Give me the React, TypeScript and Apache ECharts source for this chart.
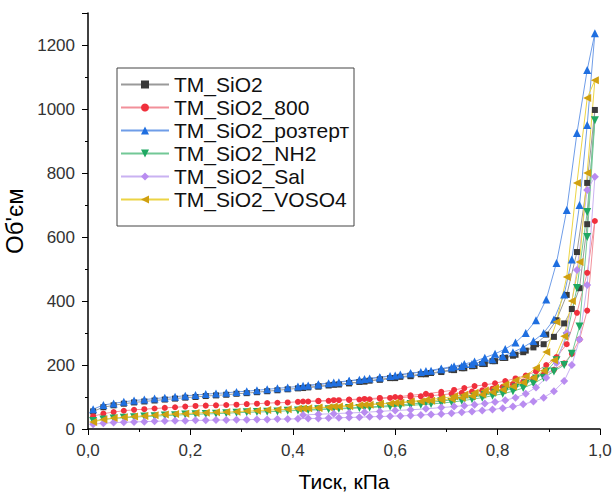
import React, { useEffect, useRef } from "react";
import * as echarts from "echarts";

// Pressure grids (adsorption branch, then desorption branch)
const P_ADS = [0.01, 0.03, 0.05, 0.07, 0.09, 0.11, 0.13, 0.15, 0.17, 0.19, 0.21, 0.23, 0.25, 0.27, 0.29, 0.31, 0.33, 0.35, 0.37, 0.39, 0.41, 0.43, 0.45, 0.47, 0.49, 0.51, 0.53, 0.55, 0.57, 0.59, 0.61, 0.63, 0.65, 0.67, 0.69, 0.71, 0.73, 0.75, 0.77, 0.79, 0.81, 0.83, 0.85, 0.87, 0.89, 0.91, 0.93, 0.945, 0.96, 0.975, 0.99];
const P_DES = [0.975, 0.955, 0.935, 0.915, 0.895, 0.875, 0.855, 0.835, 0.815, 0.795, 0.775, 0.755, 0.735, 0.715, 0.69, 0.66, 0.63, 0.6, 0.57, 0.54, 0.51, 0.48, 0.45, 0.42];

const SERIES_NAMES = ["TM_SiO2", "TM_SiO2_800", "TM_SiO2_розтерт", "TM_SiO2_NH2", "TM_SiO2_Sal", "TM_SiO2_VOSO4"];

const ADS_SIO2 = [55, 68, 74, 79, 83, 86, 89, 92, 95, 98, 100, 103, 105, 107, 110, 112, 115, 118, 121, 124, 127, 130, 133, 136, 139, 143, 147, 151, 155, 159, 163, 167, 171, 175, 180, 185, 190, 196, 203, 212, 222, 229, 240, 255, 265, 288, 330, 375, 440, 640, 997];
const DES_SIO2 = [769, 553, 419, 340, 295, 265, 245, 232, 222, 212, 203, 197, 190, 184, 178, 171, 165, 159, 154, 148, 143, 138, 133, 128];

const ADS_800 = [40, 48, 53, 57, 60, 62, 64, 66, 68, 70, 72, 73, 74, 75, 76, 78, 79, 81, 82, 83, 85, 86, 87, 88, 90, 91, 92, 93, 95, 97, 98, 100, 102, 104, 107, 110, 113, 117, 121, 126, 132, 140, 148, 158, 170, 185, 205, 235, 280, 370, 650];
const DES_800 = [488, 363, 265, 225, 200, 180, 167, 158, 150, 143, 138, 134, 128, 122, 116, 110, 105, 100, 97, 94, 92, 90, 88, 86];

const ADS_ROZT = [62, 75, 80, 85, 89, 92, 95, 98, 101, 104, 106, 109, 111, 113, 116, 118, 121, 124, 127, 130, 133, 136, 139, 143, 146, 150, 154, 158, 162, 166, 170, 174, 178, 182, 187, 192, 197, 203, 210, 218, 228, 240, 255, 275, 300, 342, 420, 530, 700, 950, 1237];
const DES_ROZT = [1122, 925, 684, 519, 405, 340, 300, 270, 250, 235, 223, 211, 203, 196, 189, 181, 174, 167, 161, 156, 151, 145, 140, 135];

const ADS_NH2 = [25, 30, 33, 35, 37, 39, 40, 42, 43, 45, 46, 47, 48, 49, 51, 52, 53, 54, 55, 57, 58, 59, 60, 62, 63, 64, 66, 67, 69, 70, 72, 74, 76, 78, 81, 84, 88, 93, 98, 104, 110, 118, 128, 142, 160, 180, 200, 235, 320, 600, 965];
const DES_NH2 = [678, 441, 290, 215, 180, 158, 142, 130, 120, 112, 106, 101, 96, 92, 87, 82, 78, 74, 71, 68, 66, 64, 62, 60];

const ADS_SAL = [15, 18, 20, 21, 22, 23, 24, 25, 26, 26, 27, 27, 28, 28, 29, 29, 30, 30, 31, 31, 32, 33, 33, 34, 35, 36, 37, 38, 39, 40, 41, 42, 44, 45, 47, 49, 52, 55, 58, 61, 65, 70, 77, 86, 98, 118, 150, 200, 280, 450, 788];
const DES_SAL = [747, 497, 300, 206, 160, 130, 110, 98, 90, 84, 80, 76, 73, 70, 67, 63, 60, 58, 55, 52, 50, 48, 46, 44];

const ADS_VOSO4 = [22, 30, 34, 37, 39, 41, 43, 45, 47, 48, 50, 51, 52, 53, 54, 56, 57, 59, 60, 62, 63, 65, 66, 68, 70, 72, 74, 76, 78, 80, 82, 84, 86, 88, 91, 94, 98, 103, 108, 115, 123, 133, 145, 160, 182, 215, 290, 400, 522, 800, 1090];
const DES_VOSO4 = [1034, 769, 475, 334, 241, 191, 165, 152, 139, 128, 120, 113, 107, 102, 96, 91, 86, 82, 79, 76, 73, 70, 67, 64];

const Y_TICKS_MAX = 1300;

const STYLES = [
  { marker: "#3a3a3a", line: "#9a9a9a", symbol: "rect", rotate: 0, size: 6 },
  { marker: "#f0303c", line: "#f2909a", symbol: "circle", rotate: 0, size: 6 },
  { marker: "#1f6fe0", line: "#6f9de8", symbol: "triangle", rotate: 0, size: 8 },
  { marker: "#1fa862", line: "#72c896", symbol: "triangle", rotate: 180, size: 8 },
  { marker: "#b98cf0", line: "#c9b2f2", symbol: "diamond", rotate: 0, size: 8 },
  { marker: "#d0a010", line: "#ecd444", symbol: "triangle", rotate: 90, size: 8 },
];

const ADS = [ADS_SIO2, ADS_800, ADS_ROZT, ADS_NH2, ADS_SAL, ADS_VOSO4];
const DES = [DES_SIO2, DES_800, DES_ROZT, DES_NH2, DES_SAL, DES_VOSO4];

export default function App() {
  const ref = useRef<HTMLDivElement>(null);
  useEffect(() => {
    if (!ref.current) return;
    const chart = echarts.init(ref.current, null, { renderer: "svg" });
    const font = "'Liberation Sans', Arial, sans-serif";
    const series = SERIES_NAMES.map((name, i) => {
      const data: number[][] = [];
      P_ADS.forEach((p, k) => data.push([p, ADS[i][k]]));
      P_DES.forEach((p, k) => data.push([p, DES[i][k]]));
      const st = STYLES[i];
      return {
        name,
        type: "line",
        data,
        symbol: st.symbol,
        symbolRotate: st.rotate,
        symbolSize: st.size,
        showAllSymbol: true,
        itemStyle: { color: st.marker },
        lineStyle: { color: st.line, width: 1 },
        emphasis: { disabled: true },
      };
    });
    chart.setOption({
      animation: false,
      textStyle: { fontFamily: font },
      grid: { left: 88, right: 14, top: 13, bottom: 63, outerBoundsMode: "none" },
      legend: {
        orient: "vertical",
        left: 117,
        top: 68,
        data: SERIES_NAMES,
        itemWidth: 48,
        itemHeight: 10,
        itemGap: 2,
        padding: [6, 5, 16, 3],
        borderColor: "#444",
        borderWidth: 1,
        textStyle: { fontSize: 21, color: "#111", fontFamily: font },
      },
      xAxis: {
        type: "value",
        min: 0,
        max: 1,
        interval: 0.2,
        name: "Тиск, кПа",
        nameLocation: "middle",
        nameGap: 42,
        nameTextStyle: { fontSize: 21, color: "#000", fontFamily: font },
        axisLine: { lineStyle: { color: "#000", width: 1.5 } },
        axisTick: { show: true, length: 6, lineStyle: { color: "#000" } },
        minorTick: { show: true, splitNumber: 2, length: 3, lineStyle: { color: "#000" } },
        splitLine: { show: false },
        axisLabel: {
          fontSize: 17,
          color: "#333",
          margin: 13,
          formatter: (v: number) => v.toFixed(1).replace(".", ","),
        },
      },
      yAxis: {
        type: "value",
        min: 0,
        max: Y_TICKS_MAX,
        interval: 200,
        name: "Об'єм",
        nameLocation: "middle",
        nameGap: 52,
        nameTextStyle: { fontSize: 24, color: "#000", fontFamily: font },
        axisLine: { show: true, lineStyle: { color: "#000", width: 1.5 } },
        axisTick: { show: true, length: 6, lineStyle: { color: "#000" } },
        minorTick: { show: true, splitNumber: 2, length: 3, lineStyle: { color: "#000" } },
        splitLine: { show: false },
        axisLabel: {
          fontSize: 17,
          color: "#333",
          margin: 13,
          showMaxLabel: false,
          formatter: (v: number) => (v >= Y_TICKS_MAX ? "" : String(v)),
        },
      },
      series,
    });
    return () => chart.dispose();
  }, []);
  return (
    <div
      ref={ref}
      style={{ position: "fixed", left: 0, top: 0, width: 614, height: 492, background: "#fff" }}
    />
  );
}
